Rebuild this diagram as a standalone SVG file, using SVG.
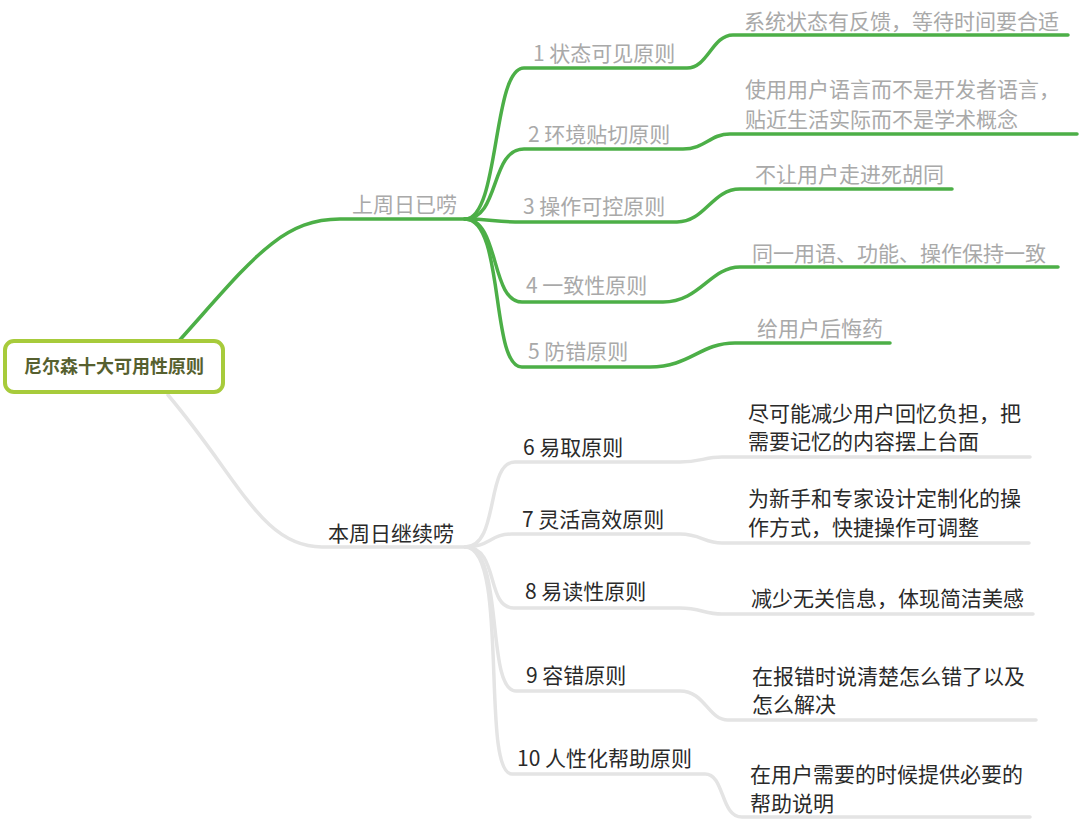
<svg xmlns="http://www.w3.org/2000/svg" width="1080" height="824" viewBox="0 0 1080 824">
<style>
text{font-family:"Noto Sans CJK SC","Liberation Sans",sans-serif;font-size:21px}
.g{fill:none;stroke:#4caf47;stroke-width:3.5;stroke-linecap:round}
.w{fill:none;stroke:#e4e4e4;stroke-width:3.5;stroke-linecap:round}
.t1{fill:#a9a9a9}
.t2{fill:#2a2a2a}
.root{fill:#fff;stroke:#a7cb3b;stroke-width:4}
.rt{fill:#56602f;font-size:18px;font-weight:bold}
</style>
<rect width="1080" height="824" fill="#fff"/>
<g id="connectors">
<path class="g" d="M178,342 C250,262 280,219 340,219 H465"/>
<path class="w" d="M168,395 C240,480 262,547 322,547 H465"/>
<path class="g" d="M465,219 C500,219 492,68 524,68 H687 C708,68 712,35 733,35 H1068"/>
<path class="g" d="M465,219 C500,219 490,149 524,149 H683 C705,149 710,134 730,134 H1077"/>
<path class="g" d="M465,219 C490,219 495,222 522,222 H677 C705,222 712,189 740,189 H952"/>
<path class="g" d="M465,219 C500,219 490,302 522,302 H663 C700,302 710,267 740,267 H1058"/>
<path class="g" d="M465,219 C505,219 490,367 522,367 H650 C690,367 700,343 735,343 H890"/>
<path class="w" d="M465,547 C500,547 485,462 515,462 H680 C700,462 705,457 722,457 H1030"/>
<path class="w" d="M465,547 C490,547 490,534 512,534 H680 C700,534 705,543 722,543 H1029"/>
<path class="w" d="M465,547 C500,547 485,608 514,608 H680 C700,608 705,614 722,614 H1033"/>
<path class="w" d="M465,547 C505,547 485,691 516,691 H680 C705,691 708,720 728,720 H1036"/>
<path class="w" d="M465,547 C510,547 480,774 512,774 H705 C725,774 720,817 742,817 H1030"/>
</g>
<g id="root">
<rect class="root" x="5" y="341" width="218" height="51" rx="9"/>
<text class="rt" x="114" y="373" text-anchor="middle">尼尔森十大可用性原则</text>
</g>
<g id="last-week"><text class="t1" x="352" y="212">上周日已唠</text></g>
<g id="this-week"><text class="t2" x="328" y="541">本周日继续唠</text></g>
<g id="p1"><text class="t1" x="533" y="61">1 状态可见原则</text></g>
<g id="p1d"><text class="t1" x="744" y="29">系统状态有反馈，等待时间要合适</text></g>
<g id="p2"><text class="t1" x="528" y="142">2 环境贴切原则</text></g>
<g id="p2d"><text class="t1" x="745" y="97">使用用户语言而不是开发者语言，</text><text class="t1" x="745" y="127">贴近生活实际而不是学术概念</text></g>
<g id="p3"><text class="t1" x="523" y="214">3 操作可控原则</text></g>
<g id="p3d"><text class="t1" x="755" y="182">不让用户走进死胡同</text></g>
<g id="p4"><text class="t1" x="526" y="293">4 一致性原则</text></g>
<g id="p4d"><text class="t1" x="752" y="261">同一用语、功能、操作保持一致</text></g>
<g id="p5"><text class="t1" x="528" y="359">5 防错原则</text></g>
<g id="p5d"><text class="t1" x="757" y="336">给用户后悔药</text></g>
<g id="p6"><text class="t2" x="523" y="455">6 易取原则</text></g>
<g id="p6d"><text class="t2" x="748" y="421">尽可能减少用户回忆负担，把</text><text class="t2" x="748" y="449">需要记忆的内容摆上台面</text></g>
<g id="p7"><text class="t2" x="522" y="527">7 灵活高效原则</text></g>
<g id="p7d"><text class="t2" x="748" y="506">为新手和专家设计定制化的操</text><text class="t2" x="748" y="535">作方式，快捷操作可调整</text></g>
<g id="p8"><text class="t2" x="525" y="599">8 易读性原则</text></g>
<g id="p8d"><text class="t2" x="751" y="606">减少无关信息，体现简洁美感</text></g>
<g id="p9"><text class="t2" x="526" y="683">9 容错原则</text></g>
<g id="p9d"><text class="t2" x="752" y="684">在报错时说清楚怎么错了以及</text><text class="t2" x="752" y="712">怎么解决</text></g>
<g id="p10"><text class="t2" x="517" y="766">10 人性化帮助原则</text></g>
<g id="p10d"><text class="t2" x="750" y="782">在用户需要的时候提供必要的</text><text class="t2" x="750" y="811">帮助说明</text></g>
</svg>
